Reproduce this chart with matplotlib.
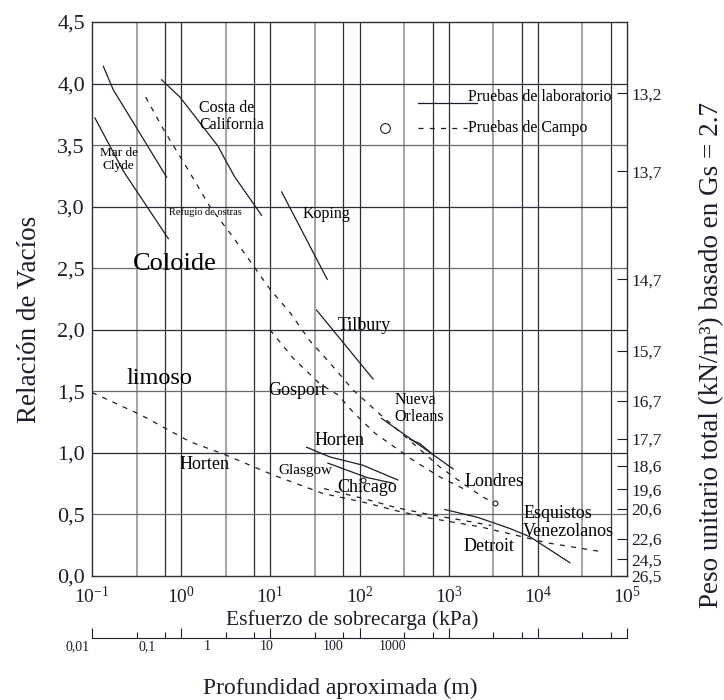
import matplotlib.pyplot as plt
import numpy as np
from matplotlib.ticker import FixedLocator, NullLocator, FuncFormatter

plt.rcParams['font.family'] = ['Liberation Serif', 'DejaVu Serif']
plt.rcParams['mathtext.fontset'] = 'stix'

INK = '#1d1d2b'
GRID_DARK = '#2e2e38'
GRID_GRAY = '#8c8c8c'
DASH = (0, (4, 5))

# --- data: overburden stress (kPa) vs void ratio ---
# laboratory tests (solid)
clyde_top_x = [0.134, 0.173, 0.687]
clyde_top_e = [4.14, 3.95, 3.24]
clyde_x = [0.108, 0.224, 0.718]
clyde_e = [3.72, 3.29, 2.74]
california_x = [0.604, 0.97, 2.6, 2.97, 4.0, 7.98]
california_e = [4.03, 3.89, 3.49, 3.41, 3.24, 2.93]
koping_x = [13.4, 43.4]
koping_e = [3.12, 2.41]
tilbury_x = [33, 142]
tilbury_e = [2.16, 1.60]
orleans_x = [177, 1122]
orleans_e = [1.28, 0.87]
orleans2_x = [367, 475, 643]
orleans2_e = [1.11, 1.076, 0.995]
horten_x = [25.5, 46.6, 109, 269]
horten_e = [1.046, 0.967, 0.90, 0.78]
glasgow_x = [44.2, 121, 237]
glasgow_e = [0.917, 0.80, 0.754]
detroit_x = [906, 2143, 4853, 8130, 22860]
detroit_e = [0.54, 0.475, 0.386, 0.319, 0.108]

# field tests (dashed)
field1_x = [0.40, 0.63, 1.15, 2.1, 3.84, 9.9, 16.6, 27.8, 46.6, 85, 160,
            367, 795, 1455, 2440, 3300]
field1_e = [3.89, 3.63, 3.32, 3.0, 2.75, 2.33, 2.14, 1.91, 1.73, 1.51, 1.33,
            1.10, 0.886, 0.75, 0.64, 0.59]
field2_x = [9.9, 18, 36, 57.7, 85, 149, 400, 795, 1455]
field2_e = [2.0, 1.77, 1.56, 1.47, 1.33, 1.16, 0.94, 0.805, 0.71]
field3_x = [0.1, 0.35, 1.26, 3.0, 10.8, 39, 110, 260, 615, 2240, 5760,
            12600, 49500]
field3_e = [1.49, 1.31, 1.09, 0.99, 0.82, 0.67, 0.60, 0.53, 0.47, 0.40, 0.33,
            0.27, 0.20]
field4_x = [40, 110, 260, 600, 1500, 3000]
field4_e = [0.71, 0.63, 0.555, 0.50, 0.45, 0.41]

points_x = [110, 3300]
points_e = [0.78, 0.59]

# axes
void_ticks = [0.0, 0.5, 1.0, 1.5, 2.0, 2.5, 3.0, 3.5, 4.0, 4.5]
unit_weight_ticks = [13.2, 13.7, 14.7, 15.7, 16.7, 17.7, 18.6, 19.6, 20.6,
                     22.6, 24.5, 26.5]
decades = [0.1, 1, 10, 100, 1000, 10000, 100000]
grid_mults_gray = [3.16]
grid_mults_dark = [6.6]
depth_labels = ['0,01', '0,1', '1', '10', '100', '1000']
depth_label_at_kpa = [0.069, 0.42, 1.95, 9.1, 50, 234]

GS, GW = 2.7, 9.81


def gamma_to_e(g):
    """ Void ratio of a saturated soil with total unit weight 'g'. """
    g = np.asarray(g, dtype=float)
    return np.clip((GS * GW - g) / (g - GW), 0, None)


def comma(v, pos=None):
    return f"{v:.1f}".replace('.', ',')


fig = plt.figure(figsize=(7.24, 7.0), dpi=100)
ax = fig.add_axes([92 / 724, 1 - 576 / 700, 535 / 724, 554 / 700])
ax.set_xscale('log')
ax.set_xlim(0.1, 1e5)
ax.set_ylim(0, 4.5)

# grid
for d in decades[:-1]:
    for m in grid_mults_gray:
        ax.axvline(d * m, color=GRID_GRAY, lw=1.1, zorder=1)
    for m in grid_mults_dark:
        ax.axvline(d * m, color=GRID_DARK, lw=0.9, zorder=1)
for d in decades[1:-1]:
    ax.axvline(d, color=GRID_DARK, lw=0.9, zorder=1)
for v in void_ticks[1:-1]:
    col = GRID_DARK if v == int(v) else '#6a6a6a'
    ax.axhline(v, color=col, lw=0.9, zorder=1)

solid = [(clyde_top_x, clyde_top_e), (clyde_x, clyde_e),
         (california_x, california_e), (koping_x, koping_e),
         (tilbury_x, tilbury_e), (orleans_x, orleans_e),
         (orleans2_x, orleans2_e), (horten_x, horten_e),
         (glasgow_x, glasgow_e), (detroit_x, detroit_e)]
dashed = [(field1_x, field1_e), (field2_x, field2_e),
          (field3_x, field3_e), (field4_x, field4_e)]
for xs, es in solid:
    ax.plot(xs, es, color=INK, lw=0.9, zorder=3)
for xs, es in dashed:
    ax.plot(xs, es, color=INK, lw=0.9, ls=DASH, zorder=3)
ax.plot(points_x, points_e, 'o', ms=3.5, mfc='white', mec=INK, mew=0.8,
        zorder=4)

# legend drawn by hand, like the original
ax.plot([0.609, 0.72], [0.854, 0.854], transform=ax.transAxes, color=INK,
        lw=0.9)
ax.plot([0.609, 0.70], [0.809, 0.809], transform=ax.transAxes, color=INK,
        lw=0.9, ls=DASH)
ax.plot([0.548], [0.809], 'o', transform=ax.transAxes, ms=7, mfc='white',
        mec=INK, mew=0.8)
ax.text(0.703, 0.865, 'Pruebas de laboratorio', transform=ax.transAxes,
        fontsize=11.5, va='center')
ax.text(0.703, 0.809, 'Pruebas de Campo', transform=ax.transAxes,
        fontsize=11.5, va='center')

# curve labels
labels = [
    ('Costa de\nCalifornia', 0.200, 0.830, 11.5, 'left'),
    ('Mar de\nClyde', 0.050, 0.751, 9.5, 'center'),
    ('Refugio de ostras', 0.211, 0.657, 7.5, 'center'),
    ('Koping', 0.394, 0.653, 11.5, 'left'),
    ('Coloide', 0.077, 0.563, 19, 'left'),
    ('limoso', 0.064, 0.356, 17.5, 'left'),
    ('Tilbury', 0.460, 0.453, 13, 'left'),
    ('Gosport', 0.329, 0.334, 13, 'left'),
    ('Nueva\nOrleans', 0.566, 0.303, 11.5, 'left'),
    ('Horten', 0.415, 0.245, 13, 'left'),
    ('Horten', 0.163, 0.202, 13, 'left'),
    ('Glasgow', 0.348, 0.190, 11, 'left'),
    ('Chicago', 0.458, 0.159, 13, 'left'),
    ('Londres', 0.697, 0.170, 13, 'left'),
    ('Esquistos\nVenezolanos', 0.806, 0.096, 13, 'left'),
    ('Detroit', 0.695, 0.054, 13, 'left'),
]
for txt, fx, fy, size, ha in labels:
    ax.text(fx, fy, txt, transform=ax.transAxes, fontsize=size, ha=ha,
            va='center', linespacing=1.1, zorder=5)

# left / bottom axes
ax.yaxis.set_major_locator(FixedLocator(void_ticks))
ax.yaxis.set_major_formatter(FuncFormatter(comma))
ax.xaxis.set_major_locator(FixedLocator(decades))
ax.xaxis.set_minor_locator(NullLocator())
ax.tick_params(axis='both', length=0, colors=INK)
ax.tick_params(axis='y', labelsize=16, pad=5)
ax.tick_params(axis='x', labelsize=14, pad=7)
for s in ax.spines.values():
    s.set_color(GRID_DARK)
    s.set_linewidth(1.0)
ax.set_ylabel('Relación de Vacíos', fontsize=19.5, color=INK)
ax.yaxis.set_label_coords((30 - 92) / 535, (576 - 319) / 554)
ax.yaxis.label.set_va('center')
ax.set_xlabel('Esfuerzo de sobrecarga (kPa)', fontsize=15.5, color=INK)
ax.xaxis.set_label_coords((352 - 92) / 535, (576 - 620) / 554)
ax.xaxis.label.set_va('center')

# right axis: total unit weight, placed through the void-ratio relation
sec = ax.secondary_yaxis('right')
sec.yaxis.set_major_locator(FixedLocator(gamma_to_e(unit_weight_ticks)))
sec.yaxis.set_major_formatter(
    FuncFormatter(lambda v, pos: comma(unit_weight_ticks[pos])))
sec.yaxis.set_minor_locator(NullLocator())
sec.tick_params(direction='in', length=7, width=0.8, labelsize=12.5, pad=3,
                colors=INK)
sec.spines['right'].set_visible(False)
fig.text(712 / 724, 1 - 355 / 700,
         'Peso unitario total (kN/m³) basado en Gs = 2.7',
         rotation=90, fontsize=19.5, ha='center', va='center', color=INK)

# depth scale under the plot
ax2 = fig.add_axes([92 / 724, 1 - 638 / 700, 535 / 724, 0.001])
ax2.set_xscale('log')
ax2.set_xlim(0.1, 1e5)
ax2.patch.set_visible(False)
for side in ['left', 'right', 'top']:
    ax2.spines[side].set_visible(False)
ax2.spines['bottom'].set_color(INK)
ax2.spines['bottom'].set_linewidth(0.8)
ax2.yaxis.set_visible(False)
ax2.xaxis.set_major_locator(FixedLocator(decades))
minor = [d * m for d in decades[:-1] for m in grid_mults_gray + grid_mults_dark]
ax2.xaxis.set_minor_locator(FixedLocator(minor))
ax2.tick_params(axis='x', which='major', direction='in', length=7, width=0.8,
                labelbottom=False, colors=INK)
ax2.tick_params(axis='x', which='minor', direction='in', length=4, width=0.8,
                labelbottom=False, colors=INK)
for lab, xv in zip(depth_labels, depth_label_at_kpa):
    ax2.text(xv, -12, lab, transform=ax2.get_xaxis_transform(), fontsize=10,
             ha='center', va='center', color=INK)
fig.text(340 / 724, 1 - 688 / 700, 'Profundidad aproximada (m)', fontsize=17,
         ha='center', va='center', color=INK)

fig.savefig('out.png', dpi=100)
